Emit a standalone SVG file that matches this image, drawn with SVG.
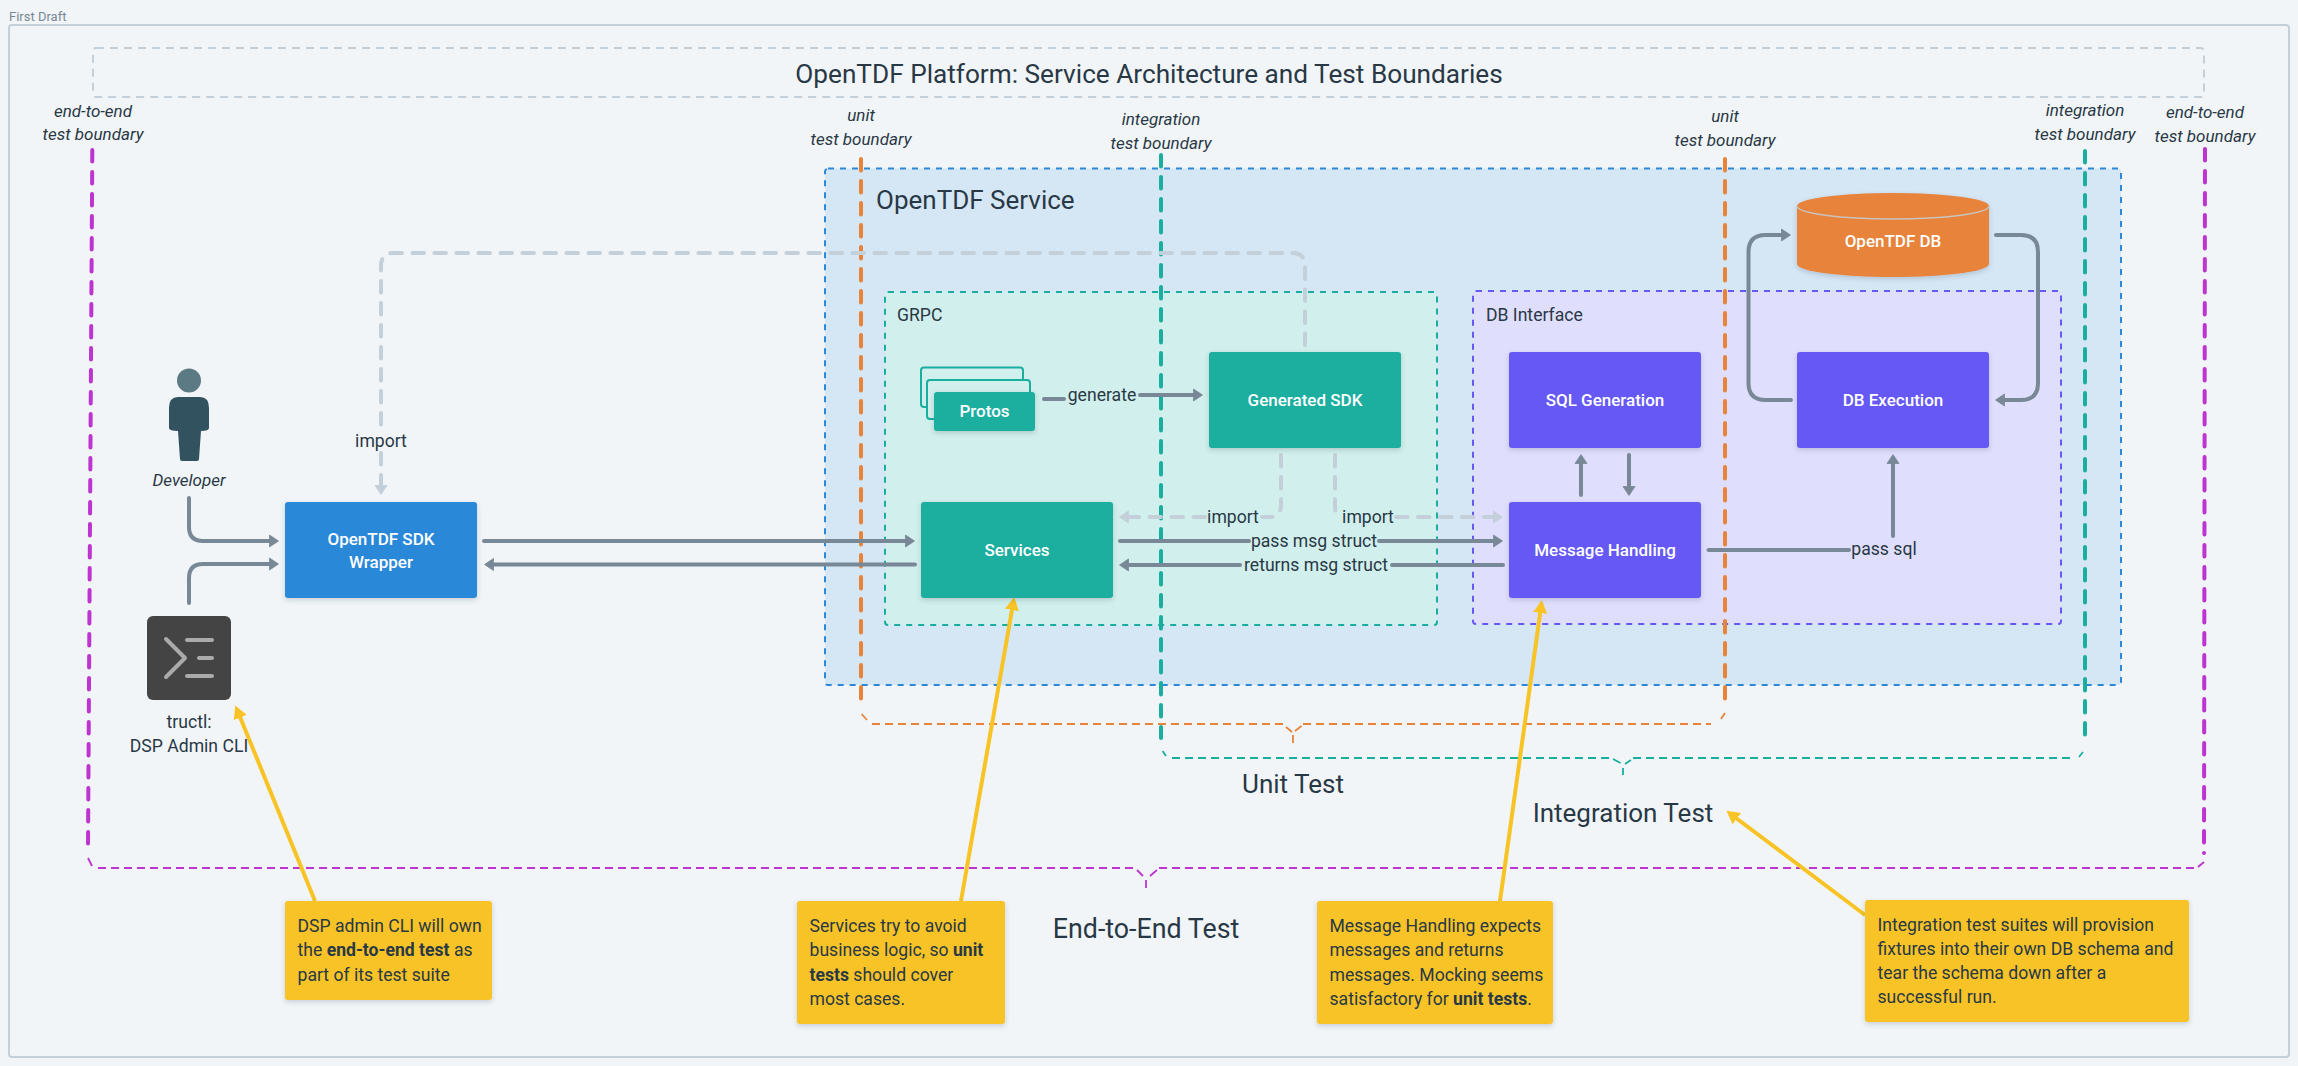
<svg xmlns="http://www.w3.org/2000/svg" width="2298" height="1066" viewBox="0 0 2298 1066">
<style>
text{font-family:"Roboto","Liberation Sans",sans-serif;fill:#293845;font-size:17.600px}
.c{text-anchor:middle}
.i{font-style:italic;font-size:17px}
.w{fill:#fff;font-weight:500;font-size:17px;text-anchor:middle}
.h{font-size:26px}
.b{font-weight:700}
.node{filter:url(#sh)}
.reg{stroke-width:2;stroke-dasharray:6 6}
.con{fill:none;stroke:#788896;stroke-width:4;stroke-linecap:round;stroke-linejoin:round;marker-end:url(#ag)}
.nm{fill:none;stroke:#788896;stroke-width:4;stroke-linecap:round}
.imp{fill:none;stroke:#c3cfd9;stroke-width:4;stroke-linecap:round;stroke-dasharray:11.500 10.500}
.ye{fill:none;stroke:#f7c325;stroke-width:4;marker-end:url(#ay)}
.bt{fill:none;stroke-width:4;stroke-dasharray:11.500 10.500;stroke-linecap:round}
.bh{fill:none;stroke-width:2;stroke-dasharray:8 5}
.ns{fill:none;stroke-width:1.800}
.mg{stroke:#bd34d1}.or{stroke:#e8833a}.te{stroke:#1aae9f}
</style>
<defs>
<filter id="sh" x="-10%" y="-10%" width="120%" height="130%"><feDropShadow dx="0" dy="2" stdDeviation="2.500" flood-color="#293845" flood-opacity="0.2"/></filter>
<marker id="ag" markerUnits="userSpaceOnUse" markerWidth="10" markerHeight="14" viewBox="0 0 10 14" refX="5" refY="7" orient="auto"><path d="M0.500 1 L9.500 7 L0.500 13 Z" fill="#788896" stroke="#788896" stroke-width="0.800" stroke-linejoin="round"/></marker>
<marker id="al" markerUnits="userSpaceOnUse" markerWidth="10" markerHeight="14" viewBox="0 0 10 14" refX="5" refY="7" orient="auto"><path d="M0.500 1 L9.500 7 L0.500 13 Z" fill="#c3cfd9" stroke="#c3cfd9" stroke-width="0.800" stroke-linejoin="round"/></marker>
<marker id="ay" markerUnits="userSpaceOnUse" markerWidth="13" markerHeight="16" viewBox="0 0 13 16" refX="6" refY="8" orient="auto"><path d="M0 1 L13 8 L0 15 Z" fill="#f7c325"/></marker>
</defs>
<rect width="2298" height="1066" fill="#f1f5f8"/>
<g id="frame">
<text x="9" y="21" style="font-size:13px;fill:#788896">First Draft</text>
<rect x="9" y="25" width="2280" height="1032" rx="3" fill="#f1f5f8" stroke="#c3cfd9" stroke-width="2"/>
</g>
<g id="title">
<rect x="93" y="48" width="2111" height="49" rx="3" fill="none" stroke="#c3cfd9" stroke-width="2" stroke-dasharray="8 6"/>
<text class="c" x="1149" y="83" style="font-size:26.200px">OpenTDF Platform: Service Architecture and Test Boundaries</text>
</g>
<g id="region-service">
<rect class="reg" x="825" y="168.500" width="1296" height="516.500" rx="3" fill="#d5e6f5" stroke="#2c88d9"/>
<text class="h" x="876" y="209">OpenTDF Service</text>
</g>
<g id="region-grpc">
<rect class="reg" x="885" y="292" width="552" height="333" rx="3" fill="#d1efec" stroke="#1aae9f"/>
<text x="897" y="321">GRPC</text>
</g>
<g id="region-db">
<rect class="reg" x="1473" y="291" width="588" height="333" rx="3" fill="#e0defd" stroke="#6558f5"/>
<text x="1486" y="321">DB Interface</text>
</g>
<g id="boundaries">
<path class="bt mg" d="M92.300 150 L88 847"/>
<path class="ns mg" d="M88 858 L92 866"/>
<path class="bh mg" d="M98 868 H1135"/>
<path class="ns mg" d="M1137 870 L1143 876 M1157 870 L1150 876 M1146 880 V888"/>
<path class="bh mg" d="M1159 868 H2195"/>
<path class="ns mg" d="M2204 862 L2198 867"/>
<path class="bt mg" d="M2205 149 L2204 853"/>
<path class="bt or" d="M861 159 V702"/>
<path class="ns or" d="M861.600 714 L867 720"/>
<path class="bh or" d="M872 724 H1284"/>
<path class="ns or" d="M1286 727 L1292 732 M1301.500 726 L1295 731 M1293 735 V743"/>
<path class="bh or" d="M1303 724 H1711"/>
<path class="ns or" d="M1725 713 L1721 719"/>
<path class="bt or" d="M1725 159 V702"/>
<path class="bt te" d="M1161 155 V738"/>
<path class="ns te" d="M1162.600 751 L1166 756"/>
<path class="bh te" d="M1172 758 H1612"/>
<path class="ns te" d="M1613 759 L1620.500 763 M1631 760 L1625 764 M1623 768 V775"/>
<path class="bh te" d="M1633 758 H2075"/>
<path class="ns te" d="M2083 752 L2079 757"/>
<path class="bt te" d="M2085 151 V738"/>
</g>
<g id="connectors">
<path class="con" d="M189 498 V527 Q189 541 203 541 H274"/>
<path class="con" d="M189 603 V578 Q189 564 203 564 H274"/>
<path class="con" d="M484 541 H910"/>
<path class="con" d="M915 564.500 H489"/>
<path class="nm" d="M1044 399 H1064"/>
<path class="con" d="M1140 395 H1198"/>
<path class="imp" d="M1305 345 V266 Q1305 253 1292 253 H394 Q381 253 381 266 V429"/>
<path class="imp" style="marker-end:url(#al)" d="M381 453 V490"/>
<path class="imp" d="M1281 455 V505 Q1281 517 1269 517 H1262"/>
<path class="imp" style="marker-end:url(#al)" d="M1205 517 H1124"/>
<path class="imp" d="M1335 455 V505 Q1335 517 1340 517"/>
<path class="imp" style="marker-end:url(#al)" d="M1396 517 H1498"/>
<path class="nm" d="M1120 541 H1249"/>
<path class="con" d="M1379 541 H1498"/>
<path class="nm" d="M1503 565 H1392"/>
<path class="con" d="M1240 565 H1124"/>
<path class="con" d="M1581 495 V459"/>
<path class="con" d="M1629 455 V491"/>
<path class="nm" d="M1708.500 550 H1849"/>
<path class="con" d="M1893 536 V459"/>
<path class="con" d="M1791 400 H1765.500 Q1748.500 400 1748.500 383 V252 Q1748.500 235 1765.500 235 H1786"/>
<path class="con" d="M1996 235 H2021 Q2038 235 2038 252 V383 Q2038 400 2021 400 H2000"/>
<path class="ye" d="M315 901 L238 712"/>
<path class="ye" d="M961 901 L1013 604"/>
<path class="ye" d="M1500 901 L1541 607"/>
<path class="ye" d="M1865 915 L1732 815"/>
</g>
<g id="connector-labels">
<text class="c" x="381" y="447">import</text>
<text class="c" x="1102" y="401">generate</text>
<text class="c" x="1233" y="523">import</text>
<text class="c" x="1368" y="523">import</text>
<text class="c" x="1314" y="547">pass msg struct</text>
<text class="c" x="1316" y="571">returns msg struct</text>
<text class="c" x="1884" y="555">pass sql</text>
</g>
<g id="boundary-labels">
<text class="c i" x="93" y="117">end-to-end</text><text class="c i" x="93" y="140">test boundary</text>
<text class="c i" x="861" y="121">unit</text><text class="c i" x="861" y="145">test boundary</text>
<text class="c i" x="1161" y="124.500">integration</text><text class="c i" x="1161" y="148.500">test boundary</text>
<text class="c i" x="1725" y="122">unit</text><text class="c i" x="1725" y="146">test boundary</text>
<text class="c i" x="2085" y="116">integration</text><text class="c i" x="2085" y="140">test boundary</text>
<text class="c i" x="2205" y="117.500">end-to-end</text><text class="c i" x="2205" y="141.500">test boundary</text>
<text class="c h" x="1293" y="793">Unit Test</text>
<text class="c h" x="1623" y="822">Integration Test</text>
<text class="c h" x="1146" y="938" style="font-size:26.800px">End-to-End Test</text>
</g>
<g id="developer">
<ellipse cx="189" cy="380.500" rx="12" ry="12" fill="#5c7a84"/>
<path d="M178 397 H200 Q209 397 209 408 V428 Q209 431 201 431 L199 459 Q199 461 197 461 H182 Q180 461 180 459 L178 431 Q169 431 169 428 V408 Q169 397 178 397 Z" fill="#335260"/>
<text class="c i" x="189" y="485.500">Developer</text>
</g>
<g id="tructl">
<rect x="147" y="616" width="84" height="84" rx="6" fill="#444"/>
<path d="M166 639 L185 658 L166 677 M187 640 H212 M199 658 H212 M187 676 H212" fill="none" stroke="#aaa" stroke-width="4" stroke-linecap="round" stroke-linejoin="round"/>
<text class="c" x="189" y="728">tructl:</text>
<text class="c" x="189" y="752">DSP Admin CLI</text>
</g>
<g id="sdk-wrapper"><rect class="node" x="285" y="502" width="192" height="96" rx="3" fill="#2c88d9"/><text class="w" x="381" y="545">OpenTDF SDK</text><text class="w" x="381" y="568">Wrapper</text></g>
<g id="protos">
<rect x="921" y="367.500" width="102" height="39.500" rx="3" fill="#d1efec" stroke="#1aae9f" stroke-width="2"/>
<rect x="927" y="380" width="103" height="39" rx="3" fill="#d1efec" stroke="#1aae9f" stroke-width="2"/>
<rect class="node" x="934" y="392" width="101" height="39" rx="3" fill="#1aae9f"/><text class="w" x="984.500" y="417">Protos</text></g>
<g id="generated-sdk"><rect class="node" x="1209" y="352" width="192" height="96" rx="3" fill="#1aae9f"/><text class="w" x="1305" y="406">Generated SDK</text></g>
<g id="services"><rect class="node" x="921" y="502" width="192" height="96" rx="3" fill="#1aae9f"/><text class="w" x="1017" y="556">Services</text></g>
<g id="sql-generation"><rect class="node" x="1509" y="352" width="192" height="96" rx="3" fill="#6558f5"/><text class="w" x="1605" y="406">SQL Generation</text></g>
<g id="message-handling"><rect class="node" x="1509" y="502" width="192" height="96" rx="3" fill="#6558f5"/><text class="w" x="1605" y="556">Message Handling</text></g>
<g id="db-execution"><rect class="node" x="1797" y="352" width="192" height="96" rx="3" fill="#6558f5"/><text class="w" x="1893" y="406">DB Execution</text></g>
<g id="opentdf-db"><path class="node" d="M1797 206 A96 13 0 0 1 1989 206 V264 A96 13 0 0 1 1797 264 Z" fill="#e8833a"/><path d="M1797 206 A96 13 0 0 0 1989 206" fill="none" stroke="#c9c3bd" stroke-width="1.500"/><text class="w" x="1893" y="247">OpenTDF DB</text></g>
<g id="note-cli"><rect class="node" x="285" y="901" width="207" height="99" rx="3" fill="#f7c325"/>
<text x="297.500" y="932">DSP admin CLI will own</text><text x="297.500" y="956">the <tspan class="b">end-to-end test</tspan> as</text><text x="297.500" y="981">part of its test suite</text></g>
<g id="note-services"><rect class="node" x="797" y="901" width="208" height="123" rx="3" fill="#f7c325"/>
<text x="809.500" y="932">Services try to avoid</text><text x="809.500" y="956">business logic, so <tspan class="b">unit</tspan></text><text x="809.500" y="981"><tspan class="b">tests</tspan> should cover</text><text x="809.500" y="1005">most cases.</text></g>
<g id="note-message"><rect class="node" x="1317" y="901" width="236" height="123" rx="3" fill="#f7c325"/>
<text x="1329.500" y="932">Message Handling expects</text><text x="1329.500" y="956">messages and returns</text><text x="1329.500" y="981">messages. Mocking seems</text><text x="1329.500" y="1005">satisfactory for <tspan class="b">unit tests</tspan>.</text></g>
<g id="note-integration"><rect class="node" x="1865" y="900" width="324" height="122" rx="3" fill="#f7c325"/>
<text x="1877.500" y="931">Integration test suites will provision</text><text x="1877.500" y="955">fixtures into their own DB schema and</text><text x="1877.500" y="979">tear the schema down after a</text><text x="1877.500" y="1003">successful run.</text></g>
</svg>
